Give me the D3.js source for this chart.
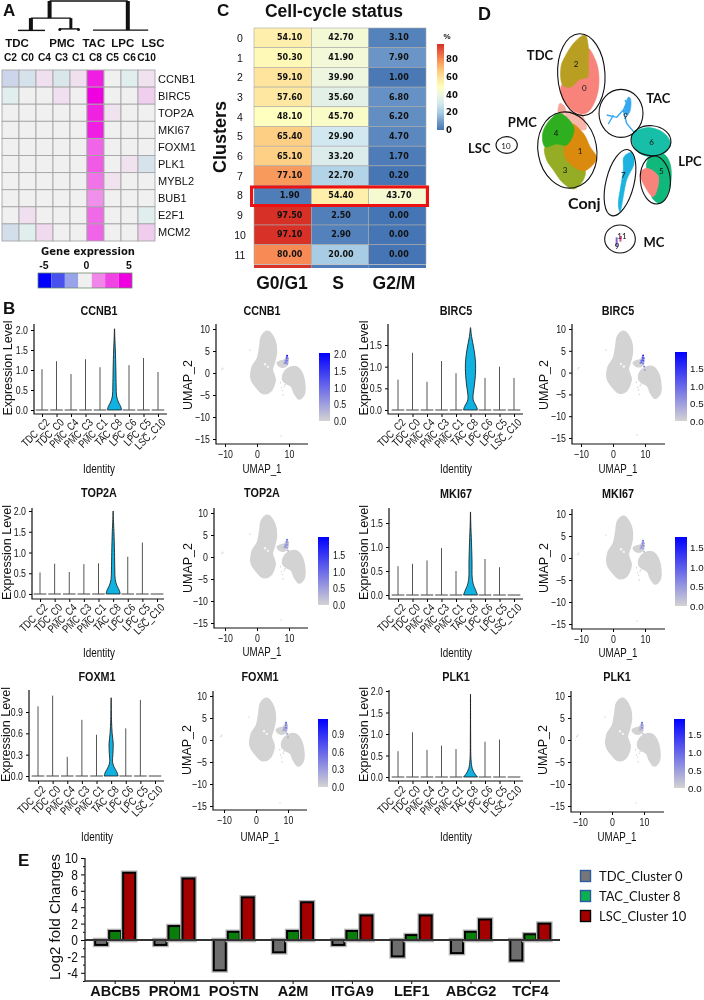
<!DOCTYPE html>
<html><head><meta charset="utf-8">
<script src="https://cdn.jsdelivr.net/npm/d3@7"></script>
<style>
html,body{margin:0;padding:0;background:#fff}
svg{display:block;filter:blur(0.35px)}
text{font-family:"Liberation Sans",Arial,sans-serif;fill:#111}
.n{font-family:"Liberation Sans",Arial,sans-serif}
.lato{font-family:Lato,"Open Sans",sans-serif}
.dv{font-family:"DejaVu Sans",sans-serif}
</style></head><body>
<svg id="c" width="704" height="1000"></svg>
<script>
// ---------- Panel A data ----------
const heatCols = ["C2","C0","C4","C3","C1","C8","C5","C6","C10"];
const heatGroups = [["TDC",0.88],["PMC",3.53],["TAC",5.4],["LPC",7.1],["LSC",8.88]];
const heatGenes = ["CCNB1","BIRC5","TOP2A","MKI67","FOXM1","PLK1","MYBL2","BUB1","E2F1","MCM2"];
const heatValues = [
 [-1.2,-0.8,0.35,-0.6,0.35,4.4,0,-0.3,0.3],
 [-0.3,0,0,0.35,0,5,0,0,0.7],
 [0,0,0,0,0,4.3,0.3,0,0],
 [0,0,0,0,0,4.4,0,0,0],
 [0,0,0,0,0,2.9,0,0,0],
 [0,0,0,0,0,3.1,0,0.3,-0.7],
 [0,0,0,0,0,2.6,0.3,0,0],
 [0,0,0,0,0,2,0,0,0],
 [0,0.35,0,0,0,2.8,0,0,-0.3],
 [-0.9,-0.3,0.45,0,0,2.9,0,0,0.75]];
const heatLegendValues = [-5,-3.4,-2,0,2.2,3.6,5];
const heatLegendTicks = [-5,0,5];
// dendrogram merges in column units: [from, to, height]
const dendroLinks = [[2.8,7.4,1],[0.94,2.53,0.02],[1.7,4.05,0.43],[3.4,4.5,0.07],[5.35,8.6,0.03]];
const dendroStems = [[2.8,1,0.43,4],[7.4,1,0.03,4],[1.7,0.43,0.02,4],[4.05,0.43,0.07,3]];
const dendroDots = [[3.4,0.05],[4.5,0.05]];
// ---------- Panel C data ----------
const cyclePhases = ["G0/G1","S","G2/M"];
const cycleRows = ["0","1","2","3","4","5","6","7","8","9","10","11"];
const cycleValues = [
 [54.1,42.7,3.1],[50.3,41.9,7.9],[59.1,39.9,1.0],[57.6,35.6,6.8],[48.1,45.7,6.2],[65.4,29.9,4.7],
 [65.1,33.2,1.7],[77.1,22.7,0.2],[1.9,54.4,43.7],[97.5,2.5,0],[97.1,2.9,0],[80,20,0]];
const cycleClipped = [97,2,0];
const cycleTicks = [0,20,40,60,80];
// ---------- Panel D data (outlines, in picture units) ----------
const dBlobs = [
 {c:"#f8837a",p:[[415,145],[440,190],[447,240],[440,290],[415,335],[390,342],[350,315],[332,275],[338,250],[412,200]]},
 {c:"#b89f22",p:[[405,105],[415,140],[415,195],[412,232],[390,238],[360,262],[338,255],[333,200],[345,170],[375,125]]},
 {c:"#f8a69a",p:[[330,310],[345,322],[345,340],[325,338]]},
 {c:"#f9b6aa",p:[[345,335],[395,345],[408,388],[385,388],[365,378]]},
 {c:"#95ac25",p:[[285,440],[320,430],[345,435],[348,470],[375,500],[405,510],[400,540],[372,567],[340,550],[310,510],[290,480]]},
 {c:"#da8a0c",p:[[365,372],[400,400],[420,440],[440,475],[405,512],[375,503],[345,472],[345,430]]},
 {c:"#2fae1f",p:[[330,340],[372,385],[350,435],[320,432],[285,440],[278,400],[298,362]]},
 {c:"#10b87c",p:[[600,470],[640,462],[660,490],[660,560],[632,610],[605,590],[625,530],[590,505]]},
 {c:"#f8837a",p:[[570,520],[590,505],[625,530],[610,590],[585,560]]},
 {c:"#17bfa8",p:[[545,405],[590,383],[640,398],[662,430],[645,458],[600,470],[560,452]]},
 {c:"#1cb3e0",p:[[522,470],[545,458],[552,490],[530,540],[510,635],[505,615],[512,560],[520,510]]},
 {c:"#35a8f0",p:[[528,310],[535,292],[541,295],[541,330],[532,345],[524,335]]}
];
const dTacLines = [
 [[470,345],[500,352],[520,330],[537,292]],
 [[520,330],[530,370],[555,400]],
 [[475,372],[490,345]],
 [[525,300],[535,320],[520,335]]
];
const dEllipses = [[394,224,71,123,-3],[352,450,88,115,-10],[513,340,66,72,0],[603,422,60,45,5],[616,540,45,72,-5],[510,548,42,102,14],[510,717,46,42,0],[170,435,32,25,0]];
const dClusterLabels = [["2",378,192],["0",403,265],["4",318,398],["1",390,452],["3",345,510],["9",527,348],["6",605,427],["7",520,525],["5",634,512],["10",168,437],["9",501,738],["11",516,708]];
const dGroupLabels = [["TDC",270,165,13],["PMC",217,367,13],["TAC",625,293,13],["LPC",720,483,13],["Conj",403,612,16],["MC",612,725,13],["LSC",88,445,13]];
const dMcMarks = [[[500,712],[500,740]],[[513,708],[511,725]]];
// ---------- Panel B data ----------
const identities = ["TDC_C2","TDC_C0","PMC_C4","PMC_C3","PMC_C1","TAC_C8","LPC_C6","LPC_C5","LSC_C10"];
const ccnb1Tops=[1.02,1.22,0.9,1.27,1.07,2.03,1.12,1.3,0.95];
const birc5Tops=[0.7,1.32,0.65,1.13,0.85,1.9,0.74,1.0,0.74];
const top2aTops=[0.52,0.73,0.53,0.72,0.74,2.0,0.9,1.24,0];
const mki67Tops=[0.6,0.65,0.72,0.98,0.5,1.73,0.75,0.58,0];
const foxm1Tops=[0.98,1.13,0.27,0.79,0.58,1.1,0.67,1.07,0];
const plk1Tops=[0.6,1.04,0.63,0.73,0.65,1.93,0.82,0.87,0];
const ccnb1Violin=[[0,1],[.08,.9],[.2,.55],[.35,.3],[.6,.24],[1,.2],[1.5,.12],[1.8,.05],[2.03,.01]];
const birc5Violin=[[0,1],[.08,.85],[.2,.45],[.3,.35],[.5,.5],[.8,.7],[1.1,.72],[1.4,.5],[1.7,.15],[1.9,.02]];
const top2aViolin=[[0,1],[.08,.9],[.2,.55],[.35,.3],[.6,.24],[1,.2],[1.5,.12],[1.8,.04],[2.0,.01]];
const mki67Violin=[[0,1],[.1,.75],[.2,.45],[.35,.25],[.7,.22],[1.1,.14],[1.5,.04],[1.73,.01]];
const foxm1Violin=[[0,1],[.06,.8],[.13,.4],[.2,.2],[.3,.25],[.45,.3],[.6,.15],[.8,.05],[1.1,.01]];
const plk1Violin=[[0,1],[.08,.6],[.2,.25],[.4,.08],[1,.02],[1.93,.005]];
const umapMain=[[3.4,9.5],[5.5,7.6],[6.1,4.9],[5.4,2.3],[4.8,.8],[5.7,-1.5],[4.2,-4.2],[1.9,-4.7],[-.3,-3.2],[-1.8,-1.5],[-1.5,1.4],[.1,3.3],[.8,5.7],[1.5,8.5]];
const umapRight=[[9.8,1.1],[12.3,1.4],[14,.1],[15,-3],[14.7,-4.9],[13.1,-5.9],[11.6,-4.5],[10.8,-3.1],[8.2,-1.8],[8.2,-.2]];
const umapTac=[[6.3,2.3],[7.6,2.8],[8.6,3],[9.4,3.9],[9.7,2.3],[9,1.5],[7.1,1.5]];
const umapStray=[[-11,.8],[-10.7,1.1],[-2.2,5.2],[7.5,-14.3],[8.5,-3],[8,-4],[8.2,-5],[7.7,-3.4],[8.8,-2.6],[7.4,-2.2]];
const umapHoles=[[2.5,2],[3.4,1.4]];
const tacCells=[[9.4,3.9],[9.3,3.4],[9.2,2.9],[9.5,2.7],[9,2.4],[8.8,2.7],[9.6,3.3],[8.6,2.2],[9.4,2.1],[9.7,1.4],[10,.6]];
const ccnb1Hits=[1.9,1.3,1.1,.8,1,.6,.9,.6,.7,0,0];
const birc5Hits=[1.6,1.3,1.1,1.2,1,.9,1.1,.8,.8,.7,.5];
const top2aHits=[1,.8,.7,.6,.7,.5,.5,.6,.5,.3,0];
const mki67Hits=[.8,.7,.6,.6,.5,.4,.5,.4,.4,.2,0];
const foxm1Hits=[.7,.5,.4,.5,.3,.3,.3,.3,.3,.3,.2];
const plk1Hits=[1,.8,.6,.6,.4,.3,.4,.2,.2,.1,0];
// ---------- Panel E data ----------
const fcGenes=["ABCB5","PROM1","POSTN","A2M","ITGA9","LEF1","ABCG2","TCF4"];
const fcTDC=[-0.6,-0.6,-3.7,-1.5,-0.6,-2,-1.6,-2.5];
const fcTAC=[1.1,1.7,1,1.1,1.1,.6,1,.7];
const fcLSC=[8.2,7.5,5.2,4.6,3,3,2.5,2];
const fcSeries=["TDC_Cluster 0","TAC_Cluster 8","LSC_Cluster 10"];

// ========== drawing ==========
const svg=d3.select("#c");
const defs=svg.append("defs");
function label(t,x,y,o={}){
  const e=svg.append("text").text(t).attr("x",x).attr("y",y)
   .attr("font-size",o.size||11).attr("text-anchor",o.anchor||"middle")
   .attr("font-weight",o.bold?"bold":"normal");
  if(o.cls)e.attr("class",o.cls);
  if(o.rot)e.attr("transform",`rotate(${o.rot},${x},${y})`);
  return e;
}
[["A",3,16,17],["B",3,314,17],["C",217,16,17],["D",478,20,18],["E",18,866,17]].forEach(d=>label(d[0],d[1],d[2],{size:d[3],bold:1,anchor:"start"}));

// --- A ---
const ax=d3.scaleBand().domain(heatCols).range([2,155]);
const ay=d3.scaleBand().domain(heatGenes).range([70,241]);
const heatColor=d3.scaleLinear().domain([-5,-3,-1.2,-.3,0,5]).range(["#0000ff","#5a64e8","#ccd5ea","#e0efed","#f0f0f0","#f000e0"]);
heatGenes.forEach((g,r)=>heatCols.forEach((c,i)=>{
  svg.append("rect").attr("x",ax(c)).attr("y",ay(g)).attr("width",ax.bandwidth()).attr("height",ay.bandwidth())
   .attr("fill",heatColor(heatValues[r][i])).attr("stroke","#a6a6a6").attr("stroke-width",.9);
}));
heatGenes.forEach(g=>label(g,158,ay(g)+ay.bandwidth()/2+4,{anchor:"start",size:11}));
heatCols.forEach(c=>label(c,ax(c)+ax.bandwidth()/2,61,{size:10.2,bold:1}));
const dx=d3.scaleLinear().domain([0,9]).range([2,155]);
const dy=d3.scaleLinear().domain([0,1]).range([31,1]);
heatGroups.forEach(g=>label(g[0],dx(g[1]),47,{size:11.5,bold:1}));
dendroLinks.forEach(d=>svg.append("line").attr("x1",dx(d[0])).attr("x2",dx(d[1])).attr("y1",dy(d[2])).attr("y2",dy(d[2])).attr("stroke","#111").attr("stroke-width",1.4));
dendroStems.forEach(d=>svg.append("line").attr("x1",dx(d[0])).attr("x2",dx(d[0])).attr("y1",dy(d[1])).attr("y2",dy(d[2])).attr("stroke","#111").attr("stroke-width",d[3]));
dendroDots.forEach(d=>svg.append("circle").attr("cx",dx(d[0])).attr("cy",dy(d[1])).attr("r",1.5).attr("fill","#111"));
const lgx=d3.scaleBand().domain(heatLegendValues).range([38,132]);
heatLegendValues.forEach(v=>svg.append("rect").attr("x",lgx(v)).attr("y",273).attr("width",lgx.bandwidth()).attr("height",15).attr("fill",heatColor(v)));
svg.append("rect").attr("x",38).attr("y",273).attr("width",94).attr("height",15).attr("fill","none").attr("stroke","#6a8a6a").attr("stroke-width",.8);
const lgt=d3.scaleLinear().domain([-5,5]).range([44,129]);
heatLegendTicks.forEach(v=>label(v,lgt(v),269,{size:10.5,bold:1}));
label("Gene expression",88,255,{size:10,bold:1,cls:"dv"});

// --- C ---
const cx=d3.scaleBand().domain(cyclePhases).range([254,426]);
const cy=d3.scaleBand().domain(cycleRows).range([28,264.4]);
const cColor=d3.scaleLinear().domain([0,10,20,30,40,48,60,70,80,97.5]).range(["#4575b4","#749ecb","#a8cce3","#d2e8f0","#eef6e0","#ffffbf","#fee29a","#fdbf72","#f88b55","#d73027"]);
cycleRows.forEach((r,i)=>{
  cyclePhases.forEach((p,j)=>{
    svg.append("rect").attr("x",cx(p)).attr("y",cy(r)).attr("width",cx.bandwidth()).attr("height",cy.bandwidth())
      .attr("fill",cColor(cycleValues[i][j])).attr("stroke","#a9a9a9").attr("stroke-width",.6);
  });
  label(r,240,cy(r)+cy.bandwidth()/2+4,{size:10.5});
});
cyclePhases.forEach((p,j)=>svg.append("rect").attr("x",cx(p)).attr("y",265).attr("width",cx.bandwidth()).attr("height",3).attr("fill",cColor(cycleClipped[j])));
const textOff=[7,1,1.5];
cycleRows.forEach((r,i)=>cyclePhases.forEach((p,j)=>{
  label(cycleValues[i][j].toFixed(2),cx(p)+cx.bandwidth()/2+textOff[j],cy(r)+cy.bandwidth()/2+2.6,{size:8,bold:1,cls:"dv"});
}));
svg.append("rect").attr("x",251.5).attr("y",187).attr("width",176).attr("height",18.5).attr("fill","none").attr("stroke","#ee1111").attr("stroke-width",3);
label("Cell-cycle status",334,17,{size:17.5,bold:1});
label("Clusters",226,137,{size:18,bold:1,rot:-90});
cyclePhases.forEach((p,j)=>label(p,[282,338,394][j],289,{size:17.5,bold:1}));
const cbY=d3.scaleLinear().domain([0,97.5]).range([130,44]);
const cg=defs.append("linearGradient").attr("id","cg").attr("x1",0).attr("x2",0).attr("y1",1).attr("y2",0);
cColor.domain().forEach(v=>cg.append("stop").attr("offset",v/97.5).attr("stop-color",cColor(v)));
svg.append("rect").attr("x",437).attr("y",44).attr("width",7).attr("height",86).attr("fill","url(#cg)");
cycleTicks.forEach(v=>label(v,446,cbY(v)+3,{size:8.5,bold:1,anchor:"start",cls:"dv"}));
label("%",447,39,{size:8,bold:1});

// --- D ---
const px=d3.scaleLinear().domain([0,762]).range([450,704]);
const py=d3.scaleLinear().domain([0,810]).range([0,270]);
const blobLine=d3.line().x(d=>px(d[0])).y(d=>py(d[1])).curve(d3.curveCatmullRomClosed.alpha(.5));
dBlobs.forEach(b=>svg.append("path").attr("d",blobLine(b.p)).attr("fill",b.c).attr("stroke",b.c).attr("stroke-width",.6));
const openLine=d3.line().x(d=>px(d[0])).y(d=>py(d[1]));
dTacLines.forEach(l=>svg.append("path").attr("d",openLine(l)).attr("fill","none").attr("stroke","#35a8f0").attr("stroke-width",1.4));
dMcMarks.forEach((l,i)=>svg.append("path").attr("d",openLine(l)).attr("fill","none").attr("stroke",i?"#e0508a":"#7a6ad0").attr("stroke-width",2));
dEllipses.forEach(e=>svg.append("ellipse").attr("cx",px(e[0])).attr("cy",py(e[1])).attr("rx",px(e[2])-px(0)).attr("ry",py(e[3])-py(0))
  .attr("transform",`rotate(${e[4]},${px(e[0])},${py(e[1])})`).attr("fill","none").attr("stroke","#111").attr("stroke-width",1.1));
dClusterLabels.forEach(d=>label(d[0],px(d[1]),py(d[2])+3,{size:8,cls:"lato"}));
dGroupLabels.forEach(d=>label(d[0],px(d[1]),py(d[2])+5,{size:d[3],bold:1,cls:"lato"}));

// --- B violins ---
const violinPanels=[
 {g:"CCNB1",tops:ccnb1Tops,vio:ccnb1Violin,l:34,r:167,t:324,b:414,y0:410,yRef:330,ref:2,ticks:[0,.5,1,1.5,2],c0:42,c8:158,tx:99,ty:311,idY:473,ylx:12},
 {g:"BIRC5",tops:birc5Tops,vio:birc5Violin,l:388,r:523,t:324,b:414,y0:410,yRef:345,ref:1.5,ticks:[0,.5,1,1.5],c0:398,c8:514,tx:456,ty:311,idY:473,ylx:368},
 {g:"TOP2A",tops:top2aTops,vio:top2aViolin,l:32,r:164,t:508,b:599,y0:594,yRef:511,ref:2,ticks:[0,.5,1,1.5,2],c0:40,c8:157,tx:99,ty:493,idY:657,ylx:11},
 {g:"MKI67",tops:mki67Tops,vio:mki67Violin,l:389,r:523,t:508,b:599,y0:595,yRef:523,ref:1.5,ticks:[0,.5,1,1.5],c0:398,c8:514,tx:456,ty:494,idY:657,ylx:368},
 {g:"FOXM1",tops:foxm1Tops,vio:foxm1Violin,l:29,r:164,t:690,b:781,y0:776,yRef:712,ref:.9,ticks:[0,.3,.6,.9],c0:38,c8:155,tx:97,ty:677,idY:841,ylx:10},
 {g:"PLK1",tops:plk1Tops,vio:plk1Violin,l:389,r:523,t:690,b:781,y0:777,yRef:691,ref:2,ticks:[0,.5,1,1.5,2],c0:398,c8:514,tx:456,ty:677,idY:841,ylx:368}
];
violinPanels.forEach(p=>{
  const y=d3.scaleLinear().domain([0,p.ref]).range([p.y0,p.yRef]);
  const x=d3.scalePoint().domain(identities).range([p.c0,p.c8]);
  const wid=d3.scaleLinear().domain([0,1]).range([0,7]);
  identities.forEach((id,i)=>{
    const cxp=x(id);
    if(id==="TAC_C8"){
      const area=d3.area().y(d=>y(d[0])).x0(d=>cxp-wid(d[1])).x1(d=>cxp+wid(d[1])).curve(d3.curveCatmullRom);
      svg.append("path").attr("d",area(p.vio)).attr("fill","#10b2e2").attr("stroke","#111").attr("stroke-width",.8);
    }else{
      svg.append("line").attr("x1",cxp-6.3).attr("x2",cxp+6.3).attr("y1",y(0)).attr("y2",y(0)).attr("stroke","#444").attr("stroke-width",1);
      if(p.tops[i]>0)svg.append("line").attr("x1",cxp).attr("x2",cxp).attr("y1",y(0)).attr("y2",y(p.tops[i])).attr("stroke","#555").attr("stroke-width",1);
    }
  });
  const ga=svg.append("g").attr("transform",`translate(${p.l},0)`)
    .call(d3.axisLeft(y).tickValues(p.ticks).tickFormat(d3.format(".1f")).tickSize(3));
  ga.select(".domain").remove();
  ga.selectAll("text").attr("class","n").attr("font-size",11).attr("fill","#111");
  const gb=svg.append("g").attr("transform",`translate(0,${p.b})`)
    .call(d3.axisBottom(x).tickSize(3));
  gb.select(".domain").remove();
  gb.selectAll("text").attr("class","n").attr("font-size",11).attr("fill","#222")
    .attr("text-anchor","end").attr("transform","rotate(-45)").attr("dx","-0.1em").attr("dy","0.55em");
  svg.append("path").attr("d",`M${p.l},${p.t}V${p.b}H${p.r}`).attr("fill","none").attr("stroke","#111").attr("stroke-width",1.2);
  label(p.g,p.tx,p.ty+4,{size:13.5,bold:1,cls:"n"});
  label("Identity",p.tx,p.idY,{size:12.4,cls:"n"});
  label("Expression Level",p.ylx,(p.t+p.b)/2-1,{size:12.5,rot:-90});
});

// --- B UMAPs ---
const umapPanels=[
 {g:"CCNB1",hits:ccnb1Hits,l:216,r:308,t:324,b:444,x0:257,x10:289,y10:329,yM15:439,tx:262,ty:311,cb:[319,330,353,421],cbMax:2.03,cbT:[0,.5,1,1.5,2],ux:188,uy:385,l1:473},
 {g:"BIRC5",hits:birc5Hits,l:572,r:665,t:324,b:444,x0:613,x10:645,y10:329,yM15:438,tx:618,ty:311,cb:[675,687,352,421],cbMax:1.95,cbT:[0,.5,1,1.5],ux:544,uy:385,l1:473},
 {g:"TOP2A",hits:top2aHits,l:214,r:308,t:508,b:628,x0:257,x10:289,y10:513,yM15:623,tx:262,ty:493,cb:[318,329,537,605],cbMax:2.03,cbT:[0,.5,1,1.5],ux:188,uy:568,l1:656},
 {g:"MKI67",hits:mki67Hits,l:572,r:665,t:509,b:629,x0:613,x10:645,y10:514,yM15:624,tx:618,ty:494,cb:[675,687,537,606],cbMax:1.75,cbT:[0,.5,1,1.5],ux:544,uy:568,l1:657},
 {g:"FOXM1",hits:foxm1Hits,l:213,r:307,t:691,b:810,x0:256,x10:288,y10:696,yM15:806,tx:260,ty:677,cb:[318,328,719,787],cbMax:1.15,cbT:[0,.3,.6,.9],ux:187,uy:750,l1:841},
 {g:"PLK1",hits:plk1Hits,l:571,r:664,t:691,b:812,x0:612,x10:644,y10:696,yM15:806,tx:617,ty:677,cb:[674,685,719,788],cbMax:1.92,cbT:[0,.5,1,1.5],ux:543,uy:750,l1:841}
];
const fmtU=d=>String(d).replace("-","\u2212");
umapPanels.forEach((p,k)=>{
  const x=d3.scaleLinear().domain([0,10]).range([p.x0,p.x10]);
  const y=d3.scaleLinear().domain([10,-15]).range([p.y10,p.yM15]);
  const ln=d3.line().x(d=>x(d[0])).y(d=>y(d[1])).curve(d3.curveCatmullRomClosed.alpha(.5));
  [umapMain,umapRight,umapTac].forEach(s=>svg.append("path").attr("d",ln(s)).attr("fill","#d3d3d3").attr("stroke","#d3d3d3").attr("stroke-width",1.4));
  umapStray.forEach(d=>svg.append("circle").attr("cx",x(d[0])).attr("cy",y(d[1])).attr("r",.7).attr("fill","#cfcfcf"));
  umapHoles.forEach(d=>svg.append("circle").attr("cx",x(d[0])).attr("cy",y(d[1])).attr("r",1.2).attr("fill","#f6f6f6"));
  const col=d3.scaleLinear().domain([0,p.cbMax]).range(["#d3d3d3","#0000ff"]);
  tacCells.forEach((d,i)=>{ if(p.hits[i]>0)svg.append("circle").attr("cx",x(d[0])).attr("cy",y(d[1])).attr("r",1).attr("fill",col(p.hits[i])); });
  const ga=svg.append("g").attr("transform",`translate(${p.l},0)`).call(d3.axisLeft(y).tickValues([10,5,0,-5,-10,-15]).tickFormat(fmtU).tickSize(3));
  ga.select(".domain").remove();
  ga.selectAll("text").attr("class","n").attr("font-size",11).attr("fill","#111");
  const gb=svg.append("g").attr("transform",`translate(0,${p.b})`).call(d3.axisBottom(x).tickValues([-10,0,10]).tickFormat(fmtU).tickSize(3));
  gb.select(".domain").remove();
  gb.selectAll("text").attr("class","n").attr("font-size",11).attr("fill","#111");
  svg.append("path").attr("d",`M${p.l},${p.t}V${p.b}H${p.r}`).attr("fill","none").attr("stroke","#111").attr("stroke-width",1.2);
  label(p.g,p.tx,p.ty+4,{size:13.5,bold:1,cls:"n"});
  label("UMAP_1",p.tx,p.l1,{size:12.2,cls:"n"});
  label("UMAP_2",p.ux+4,p.uy,{size:12.5,rot:-90});
  const id="ug"+k;
  const gd=defs.append("linearGradient").attr("id",id).attr("x1",0).attr("x2",0).attr("y1",1).attr("y2",0);
  gd.append("stop").attr("offset",0).attr("stop-color","#d3d3d3");
  gd.append("stop").attr("offset",1).attr("stop-color","#0000ff");
  const [a,b,c,e]=p.cb;
  svg.append("rect").attr("x",a).attr("y",c).attr("width",b-a).attr("height",e-c).attr("fill",`url(#${id})`);
  const cs=d3.scaleLinear().domain([0,p.cbMax]).range([e,c]);
  const rightEdge=b>400;
  p.cbT.forEach(v=>label(v.toFixed(1),b+(rightEdge?3:4),cs(v)+4,{anchor:"start",size:rightEdge?9.8:11,cls:rightEdge?undefined:"n"}));
});

// --- E ---
const ey=d3.scaleLinear().domain([-5,10]).range([981,858]);
const ex=d3.scaleBand().domain(fcGenes).range([85.5,560]);
const barX=d3.scaleBand().domain(fcSeries).rangeRound([-22,22]);
const fcColors=["#6e6e6e","#0a7d0a","#a50000"];
[fcTDC,fcTAC,fcLSC].forEach((vals,s)=>vals.forEach((v,i)=>{
  const xp=ex(fcGenes[i])+ex.bandwidth()/2+barX(fcSeries[s]);
  const y1=ey(Math.max(v,0)),y2=ey(Math.min(v,0));
  svg.append("rect").attr("x",xp+.5).attr("y",y1-.5).attr("width",barX.bandwidth()-1).attr("height",y2-y1+1).attr("fill","none").attr("stroke","#b5b5b5").attr("stroke-width",3.6);
  svg.append("rect").attr("x",xp+1).attr("y",y1).attr("width",barX.bandwidth()-2).attr("height",y2-y1).attr("fill",fcColors[s]).attr("stroke","#000").attr("stroke-width",2);
}));
svg.append("line").attr("x1",85).attr("x2",560).attr("y1",ey(0)).attr("y2",ey(0)).attr("stroke","#333").attr("stroke-width",2);
const yAx=svg.append("g").attr("transform","translate(85,0)").call(d3.axisLeft(ey).tickValues(d3.range(-4,11,2)).tickSize(4).tickFormat(d=>d));
yAx.select(".domain").remove();
yAx.selectAll("text").attr("font-size",15).attr("fill","#111").attr("class","n");
svg.append("g").attr("transform","translate(85,0)").call(d3.axisLeft(ey).tickValues(d3.range(-5,10,2)).tickSize(2).tickFormat("")).select(".domain").remove();
const xAx=svg.append("g").attr("transform","translate(0,981)").call(d3.axisBottom(ex).tickSize(3));
xAx.select(".domain").remove();
xAx.selectAll("text").attr("font-size",14.5).attr("font-weight","bold").attr("fill","#111").attr("dy","0.6em");
svg.append("path").attr("d","M85,858V981H560").attr("fill","none").attr("stroke","#222").attr("stroke-width",1.3);
label("Log2 fold Changes",60,917,{size:15,rot:-90});
const lgY=d3.scalePoint().domain(fcSeries).range([876,916]);
const lgFill=["#777777","#0cb050","#a50000"],lgStroke=["#2a5aa0","#2a5aa0","#000"];
fcSeries.forEach((s,i)=>{
  svg.append("rect").attr("x",580.5).attr("y",lgY(s)-5.5).attr("width",10).attr("height",11).attr("fill",lgFill[i]).attr("stroke",lgStroke[i]).attr("stroke-width",1.4);
  label(s,599,lgY(s)+5,{anchor:"start",size:13,cls:"lato"});
});
// condense the picture's narrow sans labels
svg.selectAll("text.n").each(function(){
  const w=this.getComputedTextLength();
  d3.select(this).attr("textLength",w*.8).attr("lengthAdjust","spacingAndGlyphs");
});
</script></body></html>
